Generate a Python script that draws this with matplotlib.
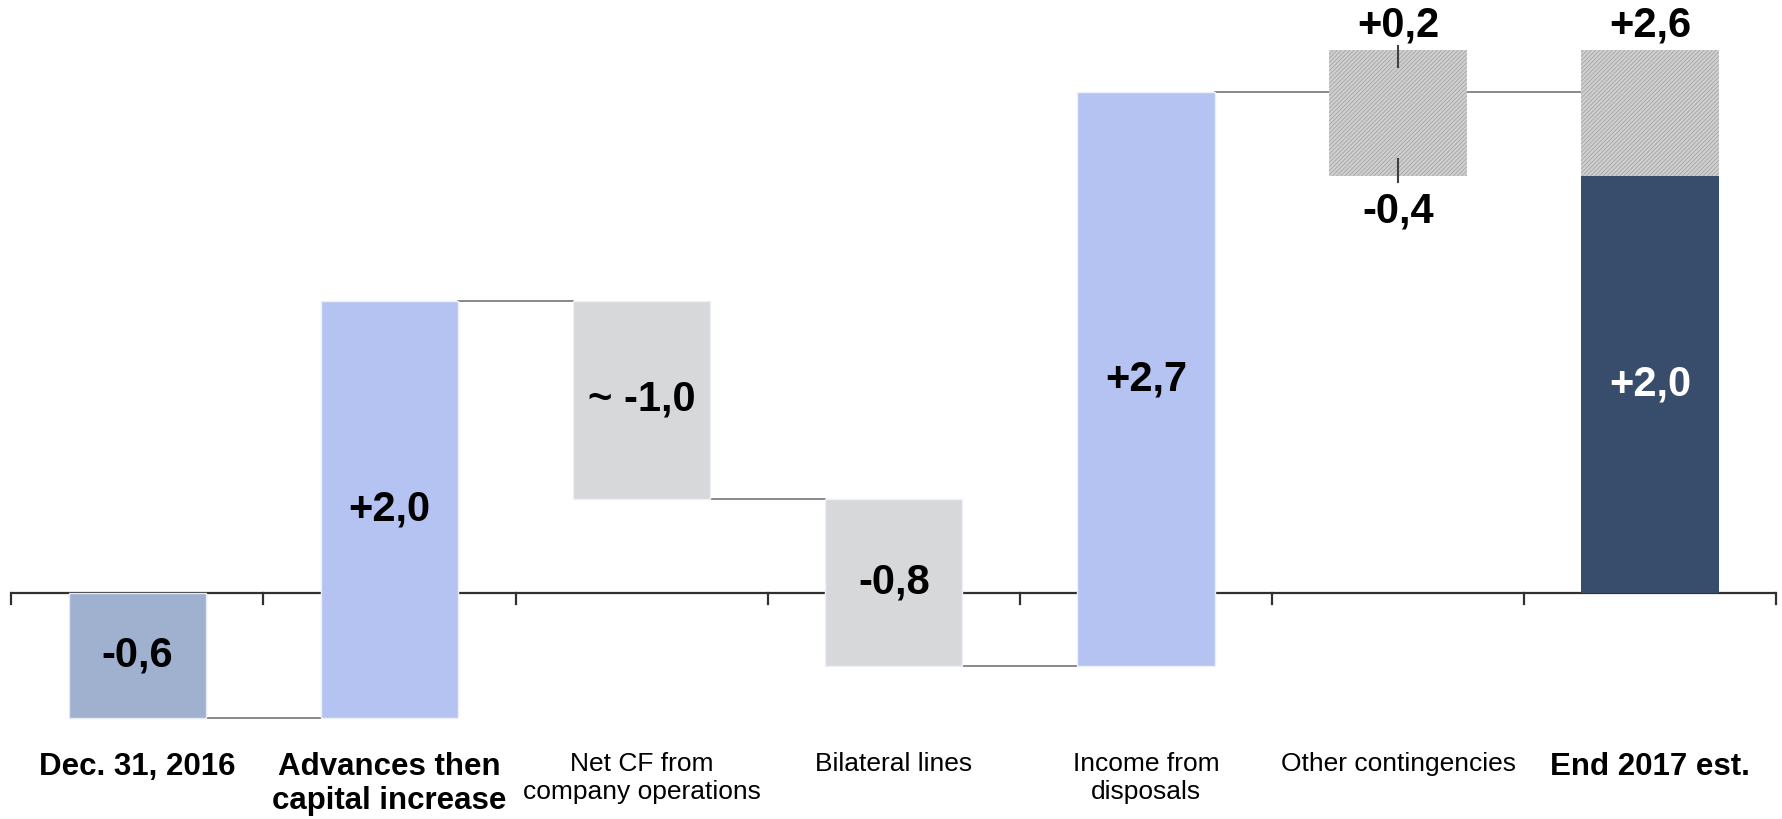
import matplotlib
matplotlib.use("Agg")
import matplotlib.pyplot as plt
import numpy as np

plt.rcParams['font.family'] = ['Liberation Sans', 'DejaVu Sans']
plt.rcParams['hatch.linewidth'] = 0.6

categories = ["Dec. 31, 2016", "Advances then\ncapital increase", "Net CF from\ncompany operations",
              "Bilateral lines", "Income from\ndisposals", "Other contingencies", "End 2017 est."]
bold_cats = [True, True, False, False, False, False, True]

start_value = -0.6
start_label = "-0,6"
changes = [2.0, -0.95, -0.8, 2.75]
change_labels = ["+2,0", "~ -1,0", "-0,8", "+2,7"]
change_colors = ["#b5c3f3", "#d7d8da", "#d7d8da", "#b5c3f3"]
contingency_up = 0.2
contingency_down = -0.4
cont_labels = ["+0,2", "-0,4"]
end_value = 2.0
end_high = 2.6
end_labels = ["+2,0", "+2,6"]

fig = plt.figure(figsize=(17.82, 8.19), dpi=100)
ax = fig.add_axes([0, 0, 1, 1])
ax.set_xlim(-0.545, 6.523)
ax.set_ylim(-1.083, 2.841)
ax.axis('off')

w = 0.545
val_fs = 30
conn_kw = dict(color='#808080', lw=1.3, zorder=2)

# baseline axis and ticks
ax.plot([-0.5, 6.5], [0, 0], color='#303030', lw=1.6, zorder=1, solid_capstyle='butt')
for b in np.arange(-0.5, 7.0, 1.0):
    ax.plot([b, b], [0, -0.053], color='#303030', lw=1.6, zorder=1)

# start bar
ax.bar(0, start_value, w, bottom=0, color='#9fb1cf', edgecolor='#e4e9f2', lw=1, zorder=3)
ax.text(0, start_value / 2, start_label, ha='center', va='center', fontsize=val_fs,
        fontweight='bold', zorder=5)

level = start_value
for i, (c, lab, col) in enumerate(zip(changes, change_labels, change_colors), start=1):
    ax.plot([i - 1 + w / 2, i - w / 2], [level, level], **conn_kw)
    ax.bar(i, c, w, bottom=level, color=col, edgecolor='#eef0f8', lw=1, zorder=3)
    ax.text(i, level + c / 2, lab, ha='center', va='center', fontsize=val_fs,
            fontweight='bold', zorder=5)
    level += c

# other contingencies
ax.plot([4 + w / 2, 5 - w / 2], [level, level], **conn_kw)
c_top = level + contingency_up
c_bot = level + contingency_down
ax.bar(5, c_top - c_bot, w, bottom=c_bot, color='#d0d0d0', edgecolor='#a4a4a4',
       hatch='////////', lw=0, zorder=3)
ax.plot([5, 5], [c_top + 0.02, c_top - 0.08], color='#404040', lw=1.5, zorder=4)
ax.plot([5, 5], [c_bot + 0.08, c_bot - 0.03], color='#404040', lw=1.5, zorder=4)
ax.text(5, c_top + 0.12, cont_labels[0], ha='center', va='center', fontsize=val_fs,
        fontweight='bold', zorder=5)
ax.text(5, c_bot - 0.17, cont_labels[1], ha='center', va='center', fontsize=val_fs,
        fontweight='bold', zorder=5)

# end bar
ax.plot([5 + w / 2, 6 - w / 2], [level, level], **conn_kw)
ax.bar(6, end_value, w, bottom=0, color='#374d6b', lw=0, zorder=3)
ax.bar(6, end_high - end_value, w, bottom=end_value, color='#d0d0d0', edgecolor='#a4a4a4',
       hatch='////////', lw=0, zorder=3)
ax.text(6, end_value / 2, end_labels[0], ha='center', va='center', fontsize=val_fs,
        fontweight='bold', color='white', zorder=5)
ax.text(6, end_high + 0.12, end_labels[1], ha='center', va='center', fontsize=val_fs,
        fontweight='bold', zorder=5)

# category labels
for i, (cat, b) in enumerate(zip(categories, bold_cats)):
    ax.text(i, -0.762, cat, ha='center', va='top', fontsize=22.5 if b else 19,
            fontweight='bold' if b else 'normal', linespacing=1.17 if b else 1.2,
            color='black')

fig.savefig("out.png", dpi=100)
